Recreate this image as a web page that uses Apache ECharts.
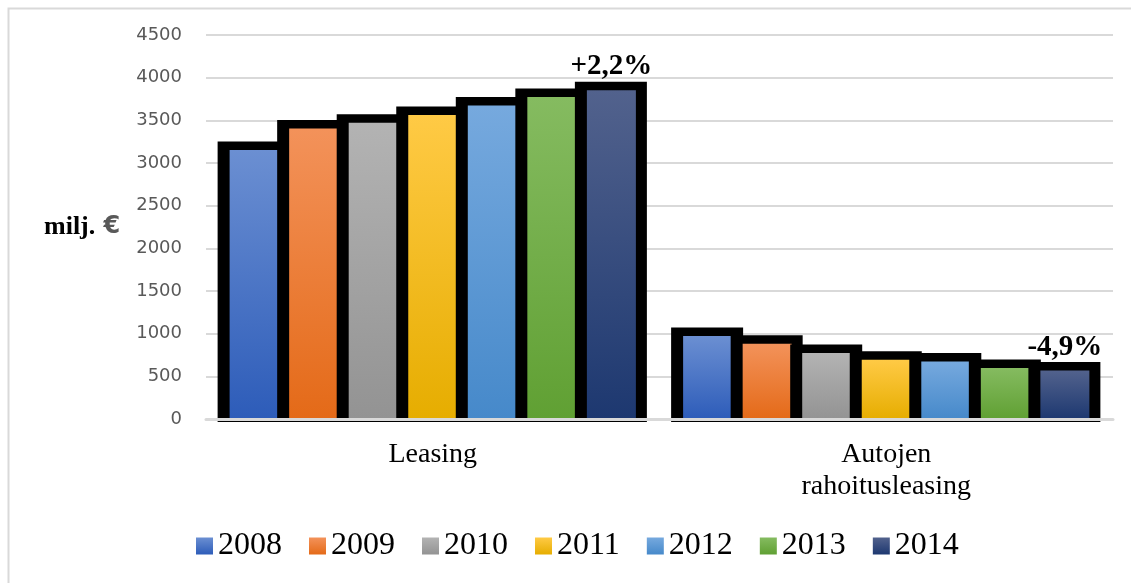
<!DOCTYPE html>
<html><head><meta charset="utf-8">
<script src="https://cdn.jsdelivr.net/npm/echarts@6/dist/echarts.min.js"></script>
<style>html,body{margin:0;padding:0;background:#fff}#c{width:1131px;height:583px}</style>
</head><body><div id="c"></div>
<script>
const categories = ['Leasing', 'Autojen\nrahoitusleasing'];
const years = ['2008', '2009', '2010', '2011', '2012', '2013', '2014'];
const v2008 = [3200, 1020];
const v2009 = [3450, 930];
const v2010 = [3520, 820];
const v2011 = [3610, 740];
const v2012 = [3720, 720];
const v2013 = [3820, 645];
const v2014 = [3900, 615];
const changeLabels = ['+2,2%', '-4,9%'];
const yMin = 0, yMax = 4500, yStep = 500;

const seriesValues = [v2008, v2009, v2010, v2011, v2012, v2013, v2014];
const colorsTop = ['#6b8fd2', '#f3925a', '#b3b3b3', '#ffca45', '#76a9de', '#85bb60', '#52628d'];
const colorsBottom = ['#2d5cb9', '#e46a18', '#939393', '#e6ad00', '#4689ca', '#60a033', '#1d3870'];

function grad(i) {
  return new echarts.graphic.LinearGradient(0, 0, 0, 1, [
    { offset: 0, color: colorsTop[i] },
    { offset: 1, color: colorsBottom[i] }
  ]);
}

function renderItem(params, api) {
  const k = params.seriesIndex;
  const ci = api.value(0), val = api.value(1);
  const base = api.coord([ci, 0]);
  const top = api.coord([ci, val]);
  const band = api.size([1, 0])[0];
  const slot = band * 0.1313;
  const fillW = slot * 0.823;
  const cx = base[0] + (k - 3) * slot;
  const x0 = cx - fillW / 2;
  const children = [
    { type: 'rect', shape: { x: x0 - 12, y: top[1] - 4.5, width: fillW + 23, height: base[1] - top[1] + 7.5 }, style: { fill: '#000' } },
    { type: 'rect', shape: { x: x0, y: top[1] + 4, width: fillW, height: base[1] - top[1] - 4 }, style: { fill: grad(k) } }
  ];
  if (k === seriesValues.length - 1) {
    children.push({
      type: 'text',
      style: {
        text: changeLabels[ci], x: cx, y: top[1] - 5,
        align: 'center', verticalAlign: 'bottom',
        font: 'bold 29px "Liberation Serif"', fill: '#000'
      }
    });
  }
  return { type: 'group', children };
}

const chart = echarts.init(document.getElementById('c'), null, { renderer: 'canvas' });
chart.setOption({
  animation: false,
  backgroundColor: '#fff',
  grid: { left: 206, right: 18, top: 35, bottom: 164 },
  xAxis: {
    type: 'category', data: categories, z: 10,
    axisLine: { lineStyle: { color: '#d9d9d9', width: 3 } },
    axisTick: { show: false },
    axisLabel: { margin: 20, color: '#000', fontFamily: 'Liberation Serif', fontSize: 28, lineHeight: 32 }
  },
  yAxis: {
    type: 'value', min: yMin, max: yMax, interval: yStep,
    axisLine: { show: false }, axisTick: { show: false },
    splitLine: { lineStyle: { color: '#d9d9d9', width: 2 } },
    axisLabel: { margin: 24, color: '#595959', fontFamily: 'DejaVu Sans', fontSize: 18, formatter: v => String(v) }
  },
  legend: {
    data: years, left: 191, top: 525, itemWidth: 17, itemHeight: 17, itemGap: 27,
    icon: 'rect',
    textStyle: { color: '#000', fontFamily: 'Liberation Serif', fontSize: 32 }
  },
  graphic: [
    { type: 'rect', left: 6, top: 6, shape: { width: 1140, height: 600 }, style: { fill: 'none', stroke: '#d9d9d9', lineWidth: 2 }, silent: true },
    {
      type: 'text', left: 44, top: 214,
      style: {
        text: '{a|milj.}{b| €}',
        rich: {
          a: { font: 'bold 26px "Liberation Serif"', fill: '#000' },
          b: { font: 'bold 24px "DejaVu Sans"', fill: '#595959' }
        }
      }
    }
  ],
  series: years.map((y, i) => ({
    type: 'custom', name: y,
    itemStyle: { color: grad(i) },
    renderItem: renderItem,
    encode: { x: 0, y: 1 },
    data: seriesValues[i].map((v, c) => [c, v])
  }))
});
</script></body></html>
